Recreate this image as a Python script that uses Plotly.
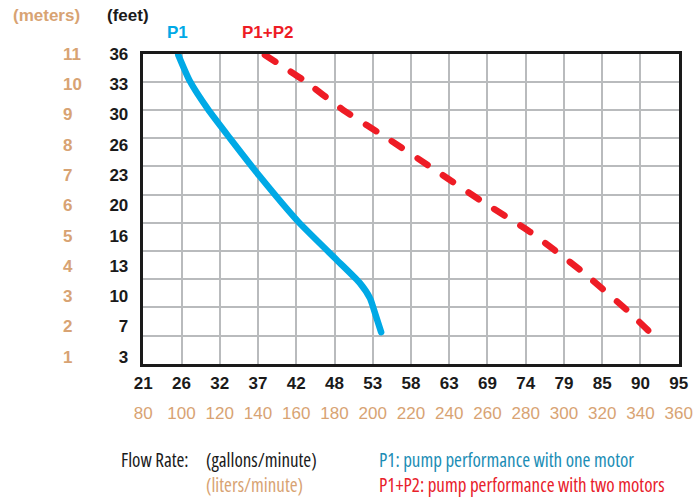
import math
import plotly.graph_objects as go

# ---- data (x in liters/minute, y in meters) ----
p1_liters = [98.3, 104.4, 113.7, 125.3, 141.0, 161.0, 181.2, 193.4, 198.6, 201.2, 204.4]
p1_meters = [10.955, 10.02, 9.04, 8.00, 6.64, 5.04, 3.68, 2.85, 2.32, 1.79, 1.12]

p12_liters = [143.6, 163.6, 184.6, 209.0, 230.0, 256.0, 282.2, 308.4, 332.8, 344.0]
p12_meters = [10.955, 10.07, 9.00, 7.94, 6.99, 5.81, 4.68, 3.33, 1.91, 1.18]

liters_ticks = [80, 100, 120, 140, 160, 180, 200, 220, 240, 260, 280, 300, 320, 340, 360]
gallons_labels = ["21", "26", "32", "37", "42", "48", "53", "58", "63", "69", "74", "79", "85", "90", "95"]
liters_labels = [str(v) for v in liters_ticks]

label_rows = [1, 2, 3, 4, 5, 6, 7, 8, 9, 10, 11]
meters_labels = ["1", "2", "3", "4", "5", "6", "7", "8", "9", "10", "11"]
feet_labels = ["3", "7", "10", "13", "16", "20", "23", "26", "30", "33", "36"]

BLUE = "#00a9e6"
RED = "#ee1c25"
TAN = "#d8a373"
GRID = "#b9bbbd"
W, H = 696, 499

def px_x(p):
    return p / W

def px_y(p):
    return (H - p) / H

BOLD = "Liberation Sans, Arial, sans-serif"
NARROW = "Open Sans, DejaVu Sans Condensed, sans-serif"

x0, x1 = 143.3, 678.7
y0, y1 = 363.7, 53.7
xdom = [px_x(x0), px_x(x1)]
ydom = [px_y(y0), px_y(y1)]

# dash pattern sized so that the dashed line ends on a dash
DASH = 12.0
sx = (x1 - x0) / (360 - 80)
sy = (y0 - y1) / 11.0
plen = sum(math.hypot((p12_liters[i + 1] - p12_liters[i]) * sx,
                      (p12_meters[i + 1] - p12_meters[i]) * sy)
           for i in range(len(p12_liters) - 1))
n = round((plen - DASH) / 30.0)
GAP = (plen - DASH) / n - DASH

fig = go.Figure()
fig.add_trace(go.Scatter(x=p1_liters, y=p1_meters, mode="lines",
                         line=dict(color=BLUE, width=6.5, shape="spline", smoothing=0.6),
                         hoverinfo="skip", showlegend=False))
fig.add_trace(go.Scatter(x=p12_liters, y=p12_meters, mode="lines",
                         line=dict(color=RED, width=6.5, shape="spline", smoothing=0.5,
                                   dash=f"{DASH}px,{GAP:.2f}px"),
                         hoverinfo="skip", showlegend=False))
# empty traces so that the label-only axes are drawn
fig.add_trace(go.Scatter(x=[None], y=[None], xaxis="x2", yaxis="y2", mode="lines",
                         hoverinfo="skip", showlegend=False))
fig.add_trace(go.Scatter(x=[None], y=[None], xaxis="x2", yaxis="y3", mode="lines",
                         hoverinfo="skip", showlegend=False))

# label-axis range for the off-grid row labels
step = 30.27
lab_lo = 1 - (y0 - 356.7) / step
lab_hi = 1 + (356.7 - y1) / step

fig.update_layout(
    width=W, height=H,
    margin=dict(l=0, r=0, t=0, b=0, autoexpand=False),
    paper_bgcolor="white", plot_bgcolor="white",
    xaxis=dict(domain=xdom, range=[80, 360], tickvals=liters_ticks, ticktext=gallons_labels,
               showgrid=True, gridcolor=GRID, gridwidth=2, zeroline=False,
               showline=True, linecolor="#1a1a1a", linewidth=2.5, mirror=True,
               ticks="", ticklabelstandoff=2,
               tickfont=dict(family=BOLD, size=17, color="#1a1a1a", weight="bold")),
    xaxis2=dict(domain=xdom, range=[80, 360], overlaying="x", anchor="free",
                position=px_y(395), side="bottom", tickvals=liters_ticks, ticktext=liters_labels,
                showgrid=False, zeroline=False, showline=False, ticks="", ticklabelstandoff=6,
                tickfont=dict(family=BOLD, size=17, color=TAN)),
    yaxis=dict(domain=ydom, range=[0, 11], dtick=1, showticklabels=False,
               showgrid=True, gridcolor=GRID, gridwidth=2, zeroline=False,
               showline=True, linecolor="#1a1a1a", linewidth=2.5, mirror=True, ticks=""),
    yaxis2=dict(domain=ydom, range=[lab_lo, lab_hi], overlaying="y", anchor="x", side="left",
                tickvals=label_rows, ticktext=feet_labels, showgrid=False, zeroline=False,
                showline=False, ticks="", ticklabelstandoff=14,
                tickfont=dict(family=BOLD, size=17, color="#1a1a1a", weight="bold")),
    yaxis3=dict(domain=ydom, range=[lab_lo, lab_hi], overlaying="y", anchor="free",
                position=px_x(60), side="right",
                tickvals=label_rows, ticktext=meters_labels, showgrid=False, zeroline=False,
                showline=False, ticks="", ticklabelstandoff=2,
                tickfont=dict(family=BOLD, size=17, color=TAN, weight="bold")),
)

def note(text, xl, yc, color, family=BOLD, size=17, bold=True, narrow=False):
    if narrow:
        text = '<span style="font-stretch:75%">' + text + '</span>'
    fig.add_annotation(x=px_x(xl), y=px_y(yc), xref="paper", yref="paper",
                       xanchor="left", yanchor="middle", showarrow=False, text=text,
                       borderpad=0,
                       font=dict(family=family, size=size, color=color,
                                 weight="bold" if bold else "normal"))

note("(meters)", 12, 15, TAN)
note("(feet)", 106, 15, "#1a1a1a")
note("P1", 166, 33, BLUE)
note("P1+P2", 241, 33, RED)
note("Flow Rate:", 120, 460, "#1a1a1a", NARROW, 19, False, True)
note("(gallons/minute)", 205, 460, "#1a1a1a", NARROW, 19, False, True)
note("(liters/minute)", 205, 485, TAN, NARROW, 19, False, True)
note("P1: pump performance with one motor", 378, 460, "#1b8db5", NARROW, 19, False, True)
note("P1+P2: pump performance with two motors", 378, 485, "#e8202a", NARROW, 19, False, True)

post = """
document.body.style.margin='0';
document.querySelectorAll('.scatterlayer path.js-line').forEach(function(p){
  p.style.strokeLinecap='round'; p.style.strokeLinejoin='round';
});
"""
fig.write_html("out.html", post_script=post, config={"displayModeBar": False})
